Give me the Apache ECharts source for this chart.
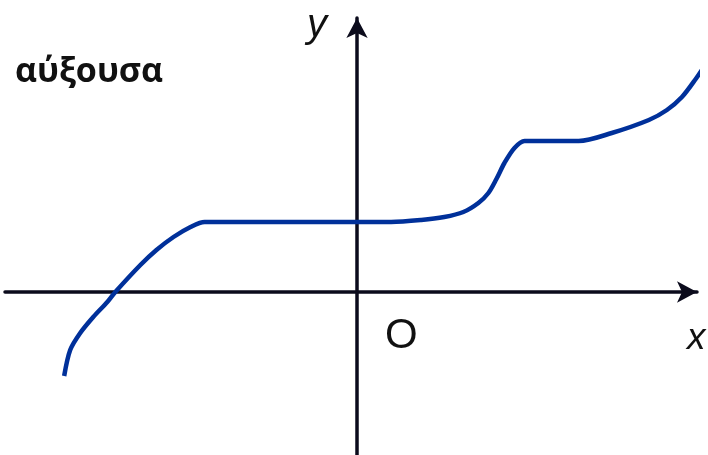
<!DOCTYPE html>
<html>
<head>
<meta charset="utf-8">
<script src="https://cdn.jsdelivr.net/npm/echarts@6/dist/echarts.min.js"></script>
<style>
  html, body { margin: 0; padding: 0; background: #fff; }
  #main { width: 708px; height: 455px; }
</style>
</head>
<body>
<div id="main"></div>
<script>
var chart = echarts.init(document.getElementById('main'));

// curve of an increasing function (axis units, origin at O)
var curveX = [-5.84, -5.72, -5.52, -5.26, -4.98, -4.82, -4.32, -4.0, -3.66, -3.32, -3.04,
              0.68, 1.28, 1.74, 2.12, 2.42, 2.62, 2.78, 2.94, 3.14, 3.34,
              4.42, 5.08, 5.82, 6.18, 6.48, 6.74, 6.98];
var curveY = [-1.68, -1.16, -0.82, -0.5, -0.2, 0, 0.54, 0.84, 1.1, 1.3, 1.4,
              1.4, 1.44, 1.5, 1.6, 1.78, 1.98, 2.26, 2.58, 2.88, 3.02,
              3.02, 3.18, 3.44, 3.64, 3.9, 4.24, 4.6];
var title = 'αύξουσα';

var curve = curveX.map(function (x, i) { return [x, curveY[i]]; });
var axisColor = '#0b0b1c';

var option = {
    backgroundColor: '#fff',
    animation: false,
    grid: { left: 5, right: 11, top: 18, bottom: 0 },
    xAxis: {
        type: 'value', min: -7.02, max: 6.78,
        axisLine: { onZero: true, symbol: ['none', 'arrow'], symbolSize: [16, 20],
            lineStyle: { color: axisColor, width: 3.5 } },
        axisTick: { show: false }, axisLabel: { show: false }, splitLine: { show: false }
    },
    yAxis: {
        type: 'value', min: -3.26, max: 5.48,
        axisLine: { onZero: true, symbol: ['none', 'arrow'], symbolSize: [16, 20],
            lineStyle: { color: axisColor, width: 3.5 } },
        axisTick: { show: false }, axisLabel: { show: false }, splitLine: { show: false }
    },
    series: [{
        type: 'line',
        data: curve,
        smooth: 0.3,
        showSymbol: false,
        clip: false,
        lineStyle: { color: '#00309a', width: 4.5 }
    }],
    graphic: [
        { type: 'text', left: 15, top: 55,
          style: { text: title, font: 'bold 34px "Open Sans"', fill: '#111' } },
        { type: 'text', left: 307, top: 6,
          style: { text: 'y', font: 'italic 40px "Liberation Sans"', fill: '#111' } },
        { type: 'text', left: 385, top: 315,
          style: { text: 'O', font: '42px "Liberation Sans"', fill: '#111' } },
        { type: 'text', left: 687, top: 320,
          style: { text: 'x', font: 'italic 37px "Liberation Sans"', fill: '#111' } }
    ]
};
chart.setOption(option);
</script>
</body>
</html>
